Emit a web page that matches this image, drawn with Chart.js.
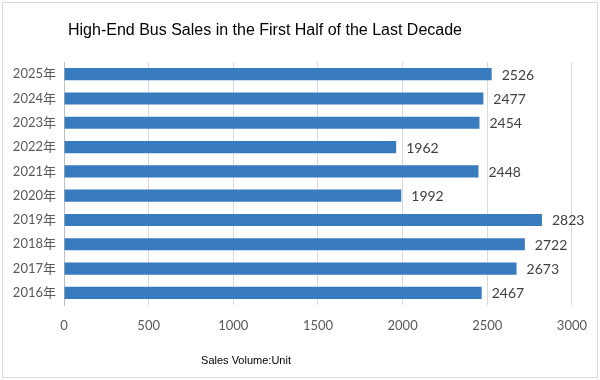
<!DOCTYPE html>
<html>
<head>
<meta charset="utf-8">
<script src="https://cdn.jsdelivr.net/npm/chart.js@4/dist/chart.umd.min.js"></script>
<style>
html,body{margin:0;padding:0;background:#fff;}
#wrap{width:600px;height:380px;}
</style>
</head>
<body>
<div id="wrap"><canvas id="c" width="600" height="380"></canvas></div>
<script>
const categories = ["2016年","2017年","2018年","2019年","2020年","2021年","2022年","2023年","2024年","2025年"];
const salesValues = [2467, 2673, 2722, 2823, 1992, 2448, 1962, 2454, 2477, 2526];
const xTickValues = [0, 500, 1000, 1500, 2000, 2500, 3000];
const chartTitle = "High-End Bus Sales in the First Half of the Last Decade";
const axisTitle = "Sales Volume:Unit";

const labelFont = "Lato, 'Noto Sans CJK SC', sans-serif";

const decor = {
  id: 'decor',
  beforeDraw(chart) {
    const ctx = chart.ctx;
    ctx.save();
    ctx.fillStyle = '#ffffff';
    ctx.fillRect(0, 0, chart.width, chart.height);
    ctx.strokeStyle = '#d9d9d9';
    ctx.lineWidth = 1;
    ctx.strokeRect(2.5, 2.5, 595, 375);
    ctx.restore();
  },
  afterDatasetsDraw(chart) {
    const ctx = chart.ctx;
    ctx.save();
    ctx.font = "14px " + labelFont;
    ctx.fillStyle = '#404040';
    ctx.textAlign = 'left';
    ctx.textBaseline = 'middle';
    const meta = chart.getDatasetMeta(0);
    meta.data.forEach((bar, i) => {
      ctx.fillText(String(salesValues[i]), bar.x + 10, bar.y + 1);
    });
    ctx.font = "16px 'Liberation Sans', Arial, sans-serif";
    ctx.fillStyle = '#000000';
    ctx.textAlign = 'center';
    ctx.fillText(chartTitle, 265, 31);
    ctx.font = "11px 'Liberation Sans', Arial, sans-serif";
    ctx.fillText(axisTitle, 246, 361);
    ctx.restore();
  }
};

new Chart(document.getElementById('c'), {
  type: 'bar',
  data: {
    labels: categories,
    datasets: [{
      data: salesValues,
      backgroundColor: '#387bbf',
      borderWidth: 0,
      categoryPercentage: 1,
      barPercentage: 0.5
    }]
  },
  options: {
    indexAxis: 'y',
    responsive: false,
    animation: false,
    layout: { padding: { top: 62, left: 0, right: 26, bottom: 35 } },
    plugins: { legend: { display: false }, tooltip: { enabled: false }, title: { display: false } },
    scales: {
      x: {
        min: 0, max: 3000,
        afterBuildTicks(scale) { scale.ticks = xTickValues.map(v => ({ value: v })); },
        afterFit(scale) { scale.height = 40; },
        grid: { color: '#d9d9d9', drawTicks: false },
        border: { display: false },
        ticks: { padding: 13, color: '#595959', font: { family: labelFont, size: 13 }, maxRotation: 0,
                 callback: (v) => String(v) }
      },
      y: {
        reverse: true,
        afterFit(scale) { scale.width = 64; },
        grid: { display: false, drawTicks: false },
        border: { display: true, color: '#bfbfbf' },
        ticks: { padding: 8, color: '#595959', font: { family: labelFont, size: 13 } }
      }
    }
  },
  plugins: [decor]
});
</script>
</body>
</html>
